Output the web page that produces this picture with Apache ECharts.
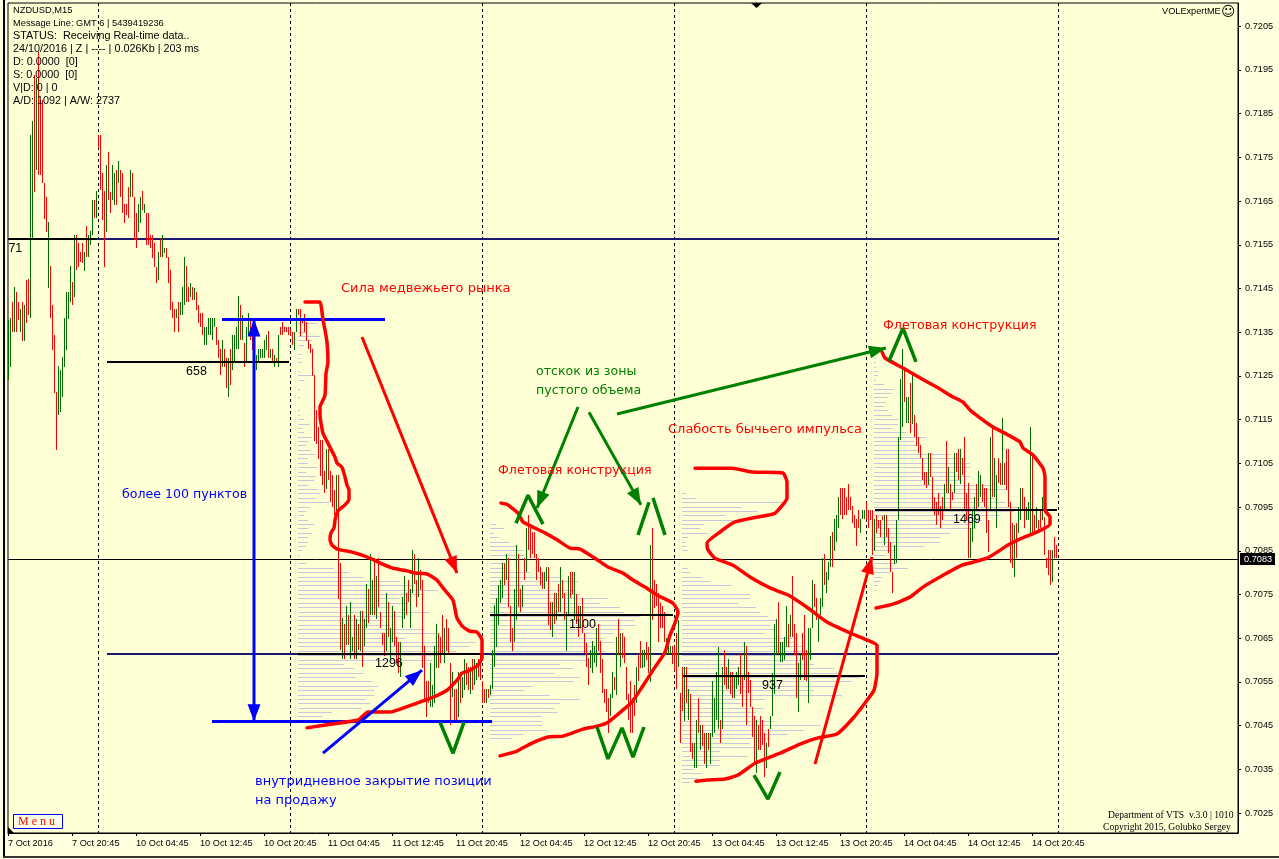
<!DOCTYPE html>
<html><head><meta charset="utf-8">
<script src="https://cdn.jsdelivr.net/npm/echarts@6/dist/echarts.min.js"></script>
<style>html,body{margin:0;padding:0;background:#ffffd9;overflow:hidden}#c{width:1279px;height:859px}</style>
</head><body><div id="c"></div>
<script>
// prices are stored in points (1 point = 0.00001); rows are [high, low, up?]
const bars7Oct = [[71378,71240,1],[71382,71270,1],[71419,71350,0],[71453,71350,1],[71442,71350,0],[71419,71378,0],[71403,71350,1],[71419,71330,0],[71412,71330,1],[71469,71371,0],[71471,71389,0],[71801,71382,1],[71833,71563,1],[71938,71670,0],[71931,71721,1],[71991,71709,0],[71881,71709,0],[71881,71691,0],[71691,71610,0],[71659,71579,0],[71602,71451,1],[71501,71382,0],[71412,71309,0],[71343,71211,0],[71213,71080,0],[71272,71160,1],[71263,71167,1],[71293,71202,1],[71382,71270,1],[71442,71309,1],[71442,71380,1],[71501,71419,1],[71465,71412,0],[71572,71430,1],[71572,71492,0],[71554,71499,0],[71533,71510,0],[71554,71508,0],[71533,71490,1],[71593,71522,0],[71572,71522,1],[71581,71549,1],[71652,71572,1],[71652,71611,0],[71673,71611,1]];
const bars10Oct = [[71801,71771,0],[71801,71675,0],[71714,71606,0],[71673,71499,0],[71732,71579,1],[71762,71652,0],[71670,71622,0],[71732,71652,1],[71714,71641,1],[71721,71641,0],[71741,71691,1],[71721,71659,0],[71714,71622,0],[71643,71600,0],[71643,71618,0],[71682,71611,0],[71721,71659,1],[71714,71659,0],[71659,71561,0],[71622,71542,0],[71643,71579,1],[71659,71600,1],[71673,71629,0],[71643,71622,1],[71622,71549,0],[71622,71549,0],[71572,71542,0],[71572,71519,0],[71554,71499,0],[71499,71462,0],[71533,71469,1],[71563,71522,0],[71572,71522,1],[71542,71531,1],[71542,71519,0],[71522,71462,0],[71492,71400,0],[71419,71382,0],[71403,71350,0],[71403,71382,1],[71419,71350,0],[71419,71389,1],[71453,71389,1],[71522,71412,1],[71501,71419,0],[71453,71419,0],[71462,71430,1],[71453,71423,0],[71451,71423,1],[71442,71400,0],[71412,71371,0],[71394,71362,0],[71394,71343,0],[71362,71321,1],[71362,71321,1],[71382,71343,1],[71382,71343,1],[71382,71332,1],[71382,71362,1],[71362,71321,0],[71332,71291,0],[71311,71252,0],[71332,71270,1],[71311,71270,0],[71291,71222,0],[71291,71202,1],[71311,71229,0],[71343,71263,1],[71343,71282,1],[71362,71311,1],[71433,71311,1],[71412,71332,0],[71389,71332,1],[71325,71270,0],[71362,71282,1],[71394,71343,1],[71382,71332,0],[71343,71309,0],[71332,71298,1],[71298,71263,1],[71311,71282,1],[71311,71291,1],[71311,71291,1],[71332,71291,1],[71343,71309,1],[71352,71291,0],[71311,71291,1],[71311,71282,0],[71298,71270,1],[71291,71279,0],[71343,71270,1],[71362,71343,0],[71373,71343,0],[71362,71350,0],[71362,71350,0],[71362,71343,0],[71357,71341,0]];
const bars11Oct = [[71350,71321,0],[71350,71309,1],[71403,71350,1],[71403,71389,0],[71403,71341,0],[71378,71371,0],[71391,71350,0],[71373,71330,0],[71332,71311,0],[71323,71302,0],[71311,71250,0],[71252,71101,0],[71172,71094,0],[71133,71060,0],[71103,71021,0],[71103,71000,0],[71032,70982,0],[71083,70991,1],[71083,71012,0],[71032,70961,0],[71023,70950,0],[70989,70932,0],[71023,70932,1],[71023,70740,0],[70822,70623,0],[70696,70602,1],[70682,70602,0],[70724,70634,1],[70703,70634,0],[70733,70602,1],[70653,70621,1],[70703,70602,0],[70694,70602,1],[70682,70623,0],[70712,70621,1],[70712,70584,0],[70694,70632,1],[70774,70673,1],[70762,70684,0],[70842,70703,1],[70783,70703,1],[70833,70703,0],[70792,70694,1],[70833,70721,0],[70710,70673,0],[70662,70634,0],[70662,70609,0],[70753,70621,1],[70733,70653,0],[70673,70602,1],[70724,70641,1],[70712,70632,0],[70653,70593,0],[70641,70570,0],[70641,70561,1],[70744,70673,1],[70792,70694,1],[70753,70703,0],[70783,70733,0],[70762,70673,1],[70852,70753,1],[70842,70774,0],[70783,70721,0],[70833,70744,1],[70806,70760,0],[70783,70582,0],[70632,70509,0],[70552,70470,0],[70552,70502,0],[70593,70493,1],[70543,70493,1],[70632,70502,1],[70682,70582,1],[70662,70582,0],[70653,70593,0],[70703,70612,0],[70673,70593,1],[70694,70621,0],[70673,70612,0],[70593,70451,0],[70573,70515,1],[70534,70463,0],[70534,70463,0],[70573,70470,1],[70573,70502,0],[70561,70513,1],[70602,70531,1],[70593,70543,0],[70584,70531,0],[70584,70522,1],[70602,70531,0],[70602,70543,1],[70593,70554,1],[70602,70561,0],[70612,70554,0],[70552,70502,0]];
const bars12Oct = [[70534,70502,0],[70534,70502,1],[70534,70513,0],[70543,70520,1],[70623,70534,1],[70726,70584,1],[70742,70630,1],[70772,70680,1],[70783,70730,1],[70822,70742,1],[70822,70772,0],[70842,70783,1],[70833,70721,0],[70724,70641,0],[70673,70621,0],[70762,70641,1],[70863,70691,1],[70842,70721,0],[70762,70710,0],[70772,70721,1],[70833,70783,0],[70902,70801,1],[70932,70852,0],[70902,70833,0],[70893,70842,0],[70893,70833,0],[70842,70783,0],[70833,70801,0],[70813,70772,0],[70801,70762,0],[70801,70762,1],[70813,70781,1],[70813,70680,0],[70733,70669,0],[70733,70653,1],[70753,70682,0],[70753,70691,1],[70774,70710,0],[70813,70710,1],[70783,70742,0],[70753,70691,0],[70710,70621,1],[70792,70701,1],[70801,70742,0],[70801,70751,0],[70801,70691,1],[70751,70682,0],[70724,70653,0],[70724,70673,1],[70742,70662,0],[70662,70616,0],[70639,70584,0],[70605,70543,0],[70623,70582,1],[70644,70570,1],[70632,70593,1],[70673,70584,1],[70682,70621,0],[70644,70570,0],[70602,70524,0],[70534,70502,0],[70534,70481,0],[70513,70433,0],[70522,70472,1],[70573,70513,1],[70561,70531,0],[70653,70520,1],[70694,70614,0],[70662,70584,1],[70662,70605,0],[70653,70593,0],[70584,70509,0],[70522,70463,0],[70552,70433,0],[70513,70433,0],[70543,70472,0],[70584,70502,1],[70612,70552,0],[70644,70582,0],[70623,70582,1],[70623,70584,1],[70641,70600,0],[70630,70570,0],[70863,70550,1],[70902,70691,0],[70783,70719,0],[70774,70724,0],[70753,70641,0],[70730,70673,0],[70724,70673,0],[70710,70641,0],[70650,70612,1],[70632,70614,1],[70632,70614,1],[70632,70591,0],[70632,70575,0],[70662,70534,0],[70691,70584,1]];
const bars13Oct = [[70525,70410,0],[70584,70483,0],[70584,70461,1],[70584,70502,0],[70534,70463,1],[70522,70389,0],[70410,70374,0],[70410,70353,1],[70463,70353,1],[70513,70433,0],[70451,70394,1],[70451,70403,0],[70433,70362,0],[70433,70353,1],[70433,70394,0],[70433,70362,1],[70552,70424,1],[70513,70433,1],[70573,70463,1],[70630,70442,1],[70463,70410,0],[70584,70442,1],[70623,70543,0],[70584,70534,0],[70602,70534,1],[70573,70522,0],[70573,70513,0],[70564,70513,1],[70573,70534,1],[70584,70543,1],[70614,70522,0],[70564,70493,0],[70641,70554,1],[70632,70451,0],[70573,70525,0],[70554,70493,0],[70493,70424,0],[70472,70362,0],[70463,70342,1],[70451,70394,0],[70472,70394,0],[70463,70405,0],[70433,70333,0],[70410,70353,1],[70442,70401,0],[70472,70442,1],[70570,70472,1],[70682,70522,1],[70694,70614,1],[70733,70614,0],[70641,70596,1],[70641,70596,1],[70653,70600,1],[70724,70630,1],[70682,70630,0],[70703,70653,1],[70792,70653,0],[70682,70612,0],[70662,70513,0],[70593,70481,1],[70614,70554,1],[70662,70600,0],[70703,70554,0],[70623,70552,0],[70673,70502,1],[70673,70600,1],[70783,70673,1],[70774,70721,0],[70742,70691,0],[70703,70641,1],[70742,70703,1],[70833,70721,1],[70842,70772,0],[70801,70753,1],[70824,70783,1],[70884,70813,1],[70893,70813,0],[70923,70849,1],[70932,70870,1],[70973,70902,1],[70993,70932,0],[70993,70923,0],[70993,70932,0],[70973,70932,0],[71002,70943,0],[70973,70943,0],[70952,70913,0],[70932,70902,0],[70923,70861,0],[70943,70902,0],[70923,70890,1],[70943,70923,1],[70943,70923,1],[70961,70920,0],[70943,70902,0],[70943,70920,0]];
const bars14Oct = [[70943,70840,0],[70923,70849,1],[70932,70890,0],[70920,70902,0],[70920,70881,0],[70929,70920,0],[70932,70863,1],[70932,70881,0],[70902,70845,0],[70870,70801,0],[70801,70753,0],[70863,70820,1],[70920,70822,1],[71110,70920,1],[71243,71103,1],[71311,71133,1],[71268,71190,0],[71202,71142,1],[71202,71142,1],[71234,71119,0],[71252,71140,1],[71160,71110,0],[71142,71090,0],[71110,71073,0],[71092,71062,0],[71062,71012,0],[71030,71000,0],[71030,70993,0],[71073,71000,1],[71073,71019,0],[71019,70943,0],[70973,70932,0],[70961,70909,0],[70982,70932,0],[70952,70902,0],[70973,70920,0],[71002,70943,1],[71101,70982,0],[71041,70982,1],[71002,70943,0],[70984,70966,0],[71073,70982,1],[71073,71030,0],[71083,71012,0],[71083,71002,1],[71062,71023,0],[71110,70943,0],[70982,70920,0],[71005,70833,0],[70902,70833,1],[70943,70870,1],[70973,70902,1],[71002,70943,0],[71032,70950,1],[71023,70973,1],[71002,70961,0],[70993,70950,0],[70993,70890,0],[70920,70847,0],[71110,70943,1],[71133,70973,0],[71062,70973,1],[71023,70902,1],[71062,71005,0],[71051,71000,0],[71153,71000,1],[71051,71000,0],[71083,70989,0],[71083,70950,0],[70961,70822,0],[70913,70810,0],[70909,70790,1],[70913,70833,0],[70950,70890,1],[70993,70920,1],[70993,70943,0],[70973,70902,0],[70950,70920,1],[70961,70920,1],[71133,70890,1],[71073,70890,0],[70932,70890,0],[70950,70902,1],[70920,70897,0],[70943,70902,0],[70973,70920,1],[70927,70840,0],[70833,70810,0],[70852,70795,0],[70852,70772,0],[70852,70779,1],[70881,70833,0],[70863,70833,0]];
const barSessions = [[0,bars7Oct],[45,bars10Oct],[142,bars11Oct],[238,bars12Oct],[336,bars13Oct],[432,bars14Oct]];

const priceTicks = [0.7205,0.7195,0.7185,0.7175,0.7165,0.7155,0.7145,0.7135,0.7125,0.7115,0.7105,0.7095,0.7085,0.7075,0.7065,0.7055,0.7045,0.7035,0.7025];
const timeLabels = ['7 Oct 2016','7 Oct 20:45','10 Oct 04:45','10 Oct 12:45','10 Oct 20:45','11 Oct 04:45','11 Oct 12:45','11 Oct 20:45','12 Oct 04:45','12 Oct 12:45','12 Oct 20:45','13 Oct 04:45','13 Oct 12:45','13 Oct 20:45','14 Oct 04:45','14 Oct 12:45','14 Oct 20:45'];
const daySeparators = [45,141,237,333,429,525];

// volume profiles: first bar, top level (points), level step 10 points, width in bars per level
const profile1Len = [9,0,4,11,7,3,0,2,1,2,0,1,7,3,0,1,0,1,0,0,1,1,3,6,2,3,7,5,4,6,9,5,5,10,4,9,8,5,10,11,9,16,6,4,3,5,8,5,7,5,5,4,2,1,0,4,18,26,33,51,58,70,63,51,55,46,66,53,43,46,63,69,54,89,86,79,70,67,23,28,33,29,37,40,38,38,34,36,32,17,12];
const profile2Len = [3,7,2,4,10,14,17,17,5,7,8,20,35,44,28,42,45,59,55,65,67,75,72,73,67,62,57,62,53,58,48,48,35,42,32,45,42,21,17,30,45,35,32,34,26,26,26,29,17,11];
const profile3Len = [2,7,50,30,38,22,26,11,9,13,3,2,2,3,0,0,0,3,4,10,14,25,19,34,34,28,37,39,43,47,44,46,41,58,56,60,65,62,60,66,76,79,89,85,77,66,80,42,33,41,37,37,46,69,61,53,44,34,37,19,33,19,19,6,10,8,4];
const profile4Len = [1,1,1,2,2,1,5,10,9,7,6,5,7,9,12,12,9,16,26,20,21,22,38,46,48,48,40,48,44,58,66,56,60,66,73,70,63,54,49,51,38,33,33,25,11,6,0,11,17,8,4,3,2,1];
const profiles = [[145,71370,profile1Len],[241,70910,profile2Len],[337,70980,profile3Len],[433,71290,profile4Len]];

// levels: [from bar, to bar, level in points, colour, width]
const backLevels = [[44.5,525,71563,'#191970',2],[49.5,525,70614,'#191970',2],[0,615,70831,'#000000',1]];
const frontLevels = [[0,44.5,71563,'#000000',2],[49.5,140.5,71282,'#000000',2],[145,237,70614,'#000000',2],[241,332.5,70703,'#000000',2],[337.5,428.5,70564,'#000000',2],[433.5,524.5,70943,'#000000',2],[107,188.5,71379,'#0000ff',3],[102,242,70460,'#0000ff',3]];

const curve1 = [[148.5,71419],[156,71419],[157,71396],[157.5,71378],[158.5,71355],[159.5,71327],[160,71282],[159,71256],[158.5,71206],[157,71190],[156,71179],[156,71160],[157.5,71119],[160,71096],[163.5,71064],[164.5,71051],[167,71041],[168.5,71019],[169.5,71000],[170.5,70989],[170.5,70968],[168.5,70955],[165,70941],[163.5,70920],[163,70902],[161.5,70891],[161,70875],[162,70863],[164.5,70854],[172,70847],[177,70840],[182,70831],[187,70820],[192.5,70810],[199.5,70804],[203.5,70799],[209.5,70797],[214.5,70783],[217.5,70765],[222.5,70737],[224.5,70696],[227.5,70676],[231,70666],[234.5,70664],[237,70646],[237,70605],[235,70589],[231,70577],[227,70570],[224.5,70554],[219.5,70531],[212.5,70515],[206,70504],[197.5,70490],[191,70481],[180,70481],[175,70463],[162.5,70454],[149.5,70445]];
const curve2 = [[246.5,70959],[250,70955],[255,70936],[257.5,70916],[263.5,70902],[268.5,70891],[274.5,70875],[281,70856],[286,70854],[293.5,70833],[300,70813],[307.5,70799],[312.5,70783],[318.5,70767],[324.5,70749],[332.5,70730],[335,70710],[333.5,70685],[331,70657],[328.5,70618],[323.5,70584],[317,70538],[312,70504],[307.5,70486],[300,70458],[294.5,70449],[287.5,70442],[277.5,70426],[270,70424],[261,70408],[254.5,70392],[246,70381]];
const curve3 = [[343.5,71039],[362,71039],[372.5,71030],[387.5,71028],[389.5,71007],[389.5,70971],[383.5,70936],[374.5,70927],[363.5,70916],[356,70893],[349.5,70868],[350,70852],[353.5,70833],[362.5,70817],[371,70790],[381,70765],[390,70749],[399.5,70721],[409.5,70687],[421,70662],[429.5,70646],[434.5,70634],[434.5,70570],[433,70531],[428.5,70502],[422.5,70467],[414.5,70431],[405,70422],[396,70408],[386,70387],[373.5,70364],[365,70337],[358.5,70328],[349.5,70326],[344,70323]];
const curve4 = [[437,71305],[438.5,71291],[447.5,71268],[453.5,71252],[464.5,71224],[472.5,71202],[477.5,71190],[481,71172],[486,71154],[492.5,71133],[500,71115],[506,71099],[507.5,71085],[512.5,71069],[517.5,71039],[518.5,71019],[518.5,70943],[521,70927],[521,70911],[514.5,70893],[506,70877],[500,70863],[489.5,70833],[477,70817],[466,70790],[457.5,70767],[451,70744],[442.5,70728],[434,70719]];
const redCurves = [curve1,curve2,curve3,curve4];

const greenMarks = [
 [[254,70913],[260,70977],[267.5,70911]],
 [[315,70886],[320.5,70961]],
 [[322.5,70971],[328.5,70886]],
 [[216,70458],[222.5,70387],[228,70458]],
 [[294.5,70447],[300,70374],[307,70445],[312.5,70378],[318,70447]],
 [[373,70337],[380,70282],[386,70344]],
 [[440.5,71284],[447.5,71359],[454,71282]]
];

// arrows: [from bar, from level, to bar, to level, colour, heads at both ends]
const arrows = [
 [177,71339,224.5,70799,'#ff0000',0],
 [403.5,70362,432,70836,'#ff0000',0],
 [157.5,70387,207,70577,'#0000ff',0],
 [123,71379,123,70460,'#0000ff',1],
 [304.5,71163,439,71314,'#008000',0],
 [285,71179,264.5,70948,'#008000',0],
 [290.5,71167,316.5,70955,'#008000',0]
];

const CAP = '13px "DejaVu Sans"';
const CAP2 = '12.6px "DejaVu Sans"';
const NUM = '12.5px "Liberation Sans"';
const notes = [
 [166.5,71453,'Сила медвежьего рынка','#ff0000',CAP],
 [245,71037,'Флетовая конструкция','#ff0000',CAP2],
 [437.5,71369,'Флетовая конструкция','#ff0000',CAP2],
 [264,71263,'отскок из зоны','#008000',CAP2],
 [264,71220,'пустого объема','#008000',CAP2],
 [330,71131,'Слабость бычьего импульса','#ff0000',CAP],
 [57,70982,'более 100 пунктов','#0000ff',CAP2],
 [123.5,70326,'внутридневное закрытие позиции','#0000ff',CAP],
 [123.5,70282,'на продажу','#0000ff',CAP],
 [0.2,71544,'71','#000',NUM],
 [89,71263,'658','#000',NUM],
 [183.5,70596,'1296','#000',NUM],
 [280.5,70685,'1100','#000',NUM],
 [377,70545,'937','#000',NUM],
 [472.5,70925,'1469','#000',NUM]
];
const lastPrice = 70831;

const toPrice = p => p / 100000;
const barRows = [];
barSessions.forEach(([start, rows]) => rows.forEach((r, k) => barRows.push([start + k, toPrice(r[1]), toPrice(r[0]), r[2]])));
const profileRows = [];
profiles.forEach(([start, top, lens]) => lens.forEach((len, k) => { if (len) profileRows.push([start, start + len, toPrice(top - 10 * k)]); }));

const crisp = (v, w) => w % 2 ? Math.floor(v) + 0.5 : Math.round(v);
const levelSeries = (rows, z) => ({
  type: 'custom', z, silent: true, data: rows.map(r => [r[0], toPrice(r[2])]), encode: {x: 0, y: 1},
  renderItem(p, api) {
    const r = rows[p.dataIndex], a = api.coord([r[0], toPrice(r[2])]), b = api.coord([r[1], toPrice(r[2])]);
    const y = crisp(a[1], r[4]);
    return {type: 'line', shape: {x1: a[0], y1: y, x2: b[0], y2: y}, style: {stroke: r[3], lineWidth: r[4]}};
  }
});

const series = [
  {type: 'custom', z: 1, silent: true, data: profileRows, encode: {x: 0, y: 2},
   renderItem(p, api) {
     const r = profileRows[p.dataIndex], a = api.coord([r[0], r[2]]), b = api.coord([r[1], r[2]]);
     const y = crisp(a[1], 1);
     return {type: 'line', shape: {x1: a[0], y1: y, x2: b[0], y2: y}, style: {stroke: '#c9c6dc', lineWidth: 1}};
   }},
  {type: 'custom', z: 2, silent: true, data: daySeparators.map(d => [d]), encode: {x: 0},
   renderItem(p, api) {
     const d = daySeparators[p.dataIndex], a = api.coord([d, yMax]), b = api.coord([d, yMin]);
     const x = crisp(a[0], 1);
     return {type: 'line', shape: {x1: x, y1: a[1], x2: x, y2: b[1]}, style: {stroke: '#000', lineWidth: 1, lineDash: [3, 3]}};
   }},
  levelSeries(backLevels, 2),
  {type: 'custom', z: 3, silent: true, data: barRows, encode: {x: 0, y: [1, 2]},
   renderItem(p, api) {
     const r = barRows[p.dataIndex], a = api.coord([r[0], r[2]]), b = api.coord([r[0], r[1]]);
     const x = crisp(a[0], 1);
     return {type: 'line', shape: {x1: x, y1: Math.round(a[1]), x2: x, y2: Math.round(b[1])}, style: {stroke: r[3] ? '#006f00' : '#ff0000', lineWidth: 1}};
   }},
  levelSeries(frontLevels, 4)
];
redCurves.forEach(c => series.push({type: 'line', z: 5, silent: true, showSymbol: false, smooth: 0.15, data: c.map(q => [q[0], toPrice(q[1])]), lineStyle: {color: '#ff0000', width: 3.5, join: 'round', cap: 'round'}}));
greenMarks.forEach(c => series.push({type: 'line', z: 5, silent: true, showSymbol: false, smooth: false, data: c.map(q => [q[0], toPrice(q[1])]), lineStyle: {color: '#008000', width: 3.5}}));
function head(tip, from, color) {
  const dx = tip[0] - from[0], dy = tip[1] - from[1], L = Math.hypot(dx, dy), ux = dx / L, uy = dy / L, hl = 17, hw = 6.5;
  const bx = tip[0] - ux * hl, by = tip[1] - uy * hl;
  return {type: 'polygon', shape: {points: [tip, [bx - uy * hw, by + ux * hw], [bx + uy * hw, by - ux * hw]]}, style: {fill: color}};
}
series.push({type: 'custom', z: 6, silent: true, data: arrows.map(a => [a[0], toPrice(a[1])]), encode: {x: 0, y: 1},
  renderItem(p, api) {
    const r = arrows[p.dataIndex], a = api.coord([r[0], toPrice(r[1])]), b = api.coord([r[2], toPrice(r[3])]);
    const kids = [{type: 'line', shape: {x1: a[0], y1: a[1], x2: b[0], y2: b[1]}, style: {stroke: r[4], lineWidth: 3}}, head(b, a, r[4])];
    if (r[5]) kids.push(head(a, b, r[4]));
    return {type: 'group', children: kids};
  }});
series.push({type: 'custom', z: 7, silent: true, data: notes.map(n => [n[0], toPrice(n[1])]), encode: {x: 0, y: 1},
  renderItem(p, api) {
    const r = notes[p.dataIndex], a = api.coord([r[0], toPrice(r[1])]);
    return {type: 'text', x: a[0], y: a[1] + 1.5, style: {text: r[2], fill: r[3], font: r[4], align: 'left', verticalAlign: 'middle'}};
  }});
series.push({type: 'custom', z: 8, silent: true, data: [[615, toPrice(lastPrice)]], encode: {x: 0, y: 1},
  renderItem(p, api) {
    const a = api.coord([615, toPrice(lastPrice)]);
    return {type: 'group', children: [
      {type: 'rect', shape: {x: a[0] + 2, y: a[1] - 6, width: 35, height: 12}, style: {fill: '#000'}},
      {type: 'text', x: a[0] + 6, y: a[1], style: {text: toPrice(lastPrice).toFixed(4), fill: '#fff', font: '9.2px "Liberation Sans"', verticalAlign: 'middle'}}
    ]};
  }});

const yMin = 0.702045, yMax = 0.72103;
const infoLines = ['NZDUSD,M15','Message Line: GMT 6 | 5439419236','STATUS:  Receiving Real-time data..','24/10/2016 | Z | ---- | 0.026Kb | 203 ms','D: 0.0000  [0]','S: 0.0000  [0]','V|D: 0 | 0','A/D: 1092 | A/W: 2737'];
const graphics = infoLines.map((t, k) => ({type: 'text', z: 20, x: 13, y: 10 + 13 * k, style: {text: t, font: (k < 2 ? '9.3px' : '10.8px') + ' "Liberation Sans"', fill: '#000', verticalAlign: 'middle'}}));
graphics.push(
  {type: 'text', z: 20, x: 1162, y: 11, style: {text: 'VOLExpertME', font: '9.2px "Liberation Sans"', fill: '#000', verticalAlign: 'middle'}},
  {type: 'text', z: 20, x: 1221, y: 12, style: {text: '☺', font: '14px "DejaVu Sans"', fill: '#000', verticalAlign: 'middle'}},
  {type: 'text', z: 20, x: 1108, y: 815, style: {text: 'Department of VTS  v.3.0 | 1010', font: '9.6px "Liberation Serif"', fill: '#000', verticalAlign: 'middle'}},
  {type: 'text', z: 20, x: 1103, y: 827, style: {text: 'Copyright 2015, Golubko Sergey', font: '9.6px "Liberation Serif"', fill: '#000', verticalAlign: 'middle'}},
  {type: 'rect', z: 20, shape: {x: 13.5, y: 814.5, width: 49, height: 14}, style: {fill: '#ffffe8', stroke: '#0000ff', lineWidth: 1}},
  {type: 'text', z: 21, x: 18, y: 822, style: {text: 'M e n u', font: '12px "Liberation Serif"', fill: '#ff0000', verticalAlign: 'middle'}},
  {type: 'polygon', z: 20, shape: {points: [[751, 3], [762, 3], [756.5, 8]]}, style: {fill: '#000'}},
  {type: 'polygon', z: 20, shape: {points: [[8, 827], [8, 833], [14, 833]]}, style: {fill: '#000'}},
  {type: 'rect', z: 20, shape: {x: 3, y: 0, width: 2, height: 857}, style: {fill: '#000'}},
  {type: 'rect', z: 20, shape: {x: 3, y: 856, width: 1276, height: 2}, style: {fill: '#333'}}
);

const chart = echarts.init(document.getElementById('c'), null, {renderer: 'canvas'});
chart.setOption({
  animation: false,
  backgroundColor: '#ffffdf',
  grid: {left: 8, top: 3, width: 1230, height: 830, show: true, backgroundColor: '#ffffd6', borderColor: '#000', borderWidth: 1},
  xAxis: {type: 'value', min: 0, max: 615, splitLine: {show: false},
    axisLine: {show: true, onZero: false, lineStyle: {color: '#000'}},
    axisTick: {show: true, length: 3, lineStyle: {color: '#000'}, customValues: timeLabels.map((_, k) => k * 32)},
    axisLabel: {show: true, customValues: timeLabels.map((_, k) => k * 32), color: '#000', margin: 6, align: 'left', fontSize: 9.2, fontFamily: 'Liberation Sans', hideOverlap: false, formatter: v => timeLabels[Math.round(v / 32)] || ''}},
  yAxis: {type: 'value', position: 'right', min: yMin, max: yMax, scale: true, splitLine: {show: false},
    axisLine: {show: true, onZero: false, lineStyle: {color: '#000'}},
    axisTick: {show: true, length: 3, lineStyle: {color: '#000'}, customValues: priceTicks},
    axisLabel: {show: true, customValues: priceTicks, color: '#000', margin: 7, fontSize: 9.2, fontFamily: 'Liberation Sans', hideOverlap: false, formatter: v => v.toFixed(4)}},
  tooltip: {show: false},
  series,
  graphic: graphics
});
</script></body></html>
